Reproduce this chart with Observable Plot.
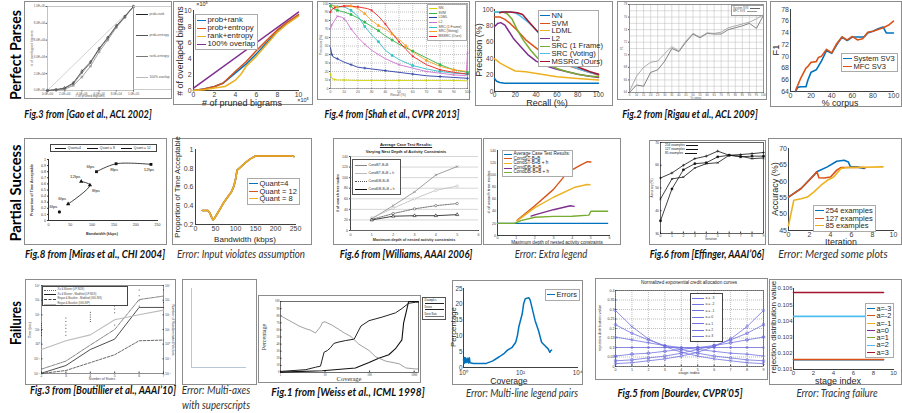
<!DOCTYPE html>
<html><head><meta charset="utf-8">
<script src="https://cdn.jsdelivr.net/npm/d3@7"></script>
<script src="https://cdn.jsdelivr.net/npm/@observablehq/plot@0.6"></script>
<style>
html,body{margin:0;padding:0;background:#fff}
body{width:902px;height:413px;overflow:hidden;position:relative;font-family:"Liberation Sans",Arial,sans-serif}
.box{position:absolute;box-sizing:border-box;border:1.5px solid #8c8c8c;background:#fff}
</style></head><body>
<script>
// ================= DATA =================
const rowTitles = ["Perfect Parses", "Partial Success", "Failures"];
const captions = ["Fig.3 from [Gao et al., ACL 2002]", "Fig.4 from [Shah et al., CVPR 2013]", "Fig.2 from [Rigau et al., ACL 2009]",
  "Fig.8 from [Miras et al., CHI 2004]", "Fig.6 from [Williams, AAAI 2006]", "Fig.6 from [Effinger, AAAI’06]",
  "Fig.3 from [Boutillier et al., AAAI’10]", "Fig.1 from [Weiss et al., ICML 1998]", "Fig.5 from [Bourdev, CVPR’05]"];
const errors = ["Error: Input violates assumption", "Error: Extra legend", "Error: Merged some plots",
  "Error: Multi-axes", "with superscripts", "Error: Multi-line legend pairs", "Error: Tracing failure"];

// Gao (original) — x, y in bigrams
const gaoNames = ["prob+rank", "prob+entropy", "rank+entropy", "100% overlap"];
const gaoOrigTicks = [0, 20000, 40000, 60000, 80000, 100000];
const gaoOrigProbRank = [[0,0],[10000,1000],[20000,3000],[30000,9000],[40000,23000],[50000,34000],[60000,50000],[70000,63000],[80000,77000],[90000,88000],[100000,100000]];
const gaoOrigProbEntropy = [[0,0],[10000,1000],[20000,2500],[30000,8000],[40000,21000],[50000,33000],[60000,49000],[70000,62000],[80000,76000],[90000,88000],[100000,100000]];
const gaoOrigRankEntropy = [[0,0],[10000,500],[20000,1500],[30000,6000],[40000,16000],[50000,29000],[60000,46000],[70000,60000],[80000,75000],[90000,87000],[100000,100000]];
const gaoOrigOverlap = [[0,0],[100000,100000]];
// Gao (recreated) — ×10^5
const gaoRecTicks = [0, 2, 4, 6, 8, 10];
const gaoRecProbRank = [[0,0],[1,0.2],[2,0.5],[2.8,0.9],[4,2.2],[5,3.3],[6,4.6],[7,6.0],[8,7.4],[9,8.5],[10,9.4]];
const gaoRecProbEntropy = [[0,0],[1,0.2],[2,0.5],[2.8,0.9],[4,2.4],[5,3.6],[6,5.0],[7,6.3],[8,7.6],[9,8.6],[10,9.5]];
const gaoRecRankEntropy = [[0,0],[1,0.1],[2,0.3],[3,0.5],[4,1.3],[4.5,2.0],[5,3.0],[6,4.3],[7,5.8],[8,7.3],[9,8.4],[10,9.3]];
const gaoRecOverlap = [[0,0.3],[10,9.8]];

// Shah — recall (%), precision (%)
const shahNames = ["NN", "SVM", "LDML", "L2", "SRC (1 Frame)", "SRC (Voting)", "MSSRC (Ours)"];
const shahOrigTicks = [0,10,20,30,40,50,60,70,80,90,100];
const shahOrigNN = [[0,17],[1,12],[3,10.5],[5,10],[10,10],[20,9.5],[30,9.5],[40,9.5],[50,9.5],[60,9.5],[70,9.5],[80,9.5],[90,9.5],[100,9]];
const shahOrigSVM = [[0,97],[3,93],[5,92],[10,90],[15,87],[20,83],[25,78],[30,73],[35,68],[40,62],[45,57],[50,52],[60,44],[70,36],[80,28],[90,22],[100,19]];
const shahOrigLDML = [[0,48],[1,40],[2,37],[5,35],[10,31],[15,28],[20,25],[25,24],[30,23],[40,21],[50,19],[60,17],[70,15],[80,14],[90,13],[100,12]];
const shahOrigL2 = [[0,70],[1,75],[3,80],[5,85],[8,84],[10,82],[12,78],[15,70],[20,60],[25,52],[30,45],[35,40],[40,35],[50,28],[60,24],[70,20],[80,18],[90,16],[99,15],[100,42]];
const shahOrigSRC1 = [[0,99],[5,96],[10,96],[15,92],[20,85],[25,73],[30,63],[35,55],[40,45],[45,39],[50,34],[60,27],[70,23],[80,20],[90,18],[100,17]];
const shahOrigSRCV = [[0,98],[5,96],[10,97],[15,97],[20,94],[25,88],[30,80],[35,74],[40,70],[45,64],[50,58],[55,50],[60,43],[70,33],[80,26],[90,22],[100,20]];
const shahOrigMSSRC = [[0,90],[1,93],[3,95],[5,96],[10,97],[15,97],[20,96],[27,94],[30,92],[35,85],[40,76],[45,65],[50,55],[55,46],[60,38],[70,28],[80,22],[90,19],[100,17]];
const shahRecTicks = [0,20,40,60,80,100];
const shahRecNN = [[0,16],[2,12.5],[5,11],[10,10],[20,10],[40,10],[60,10],[80,10],[100,10]];
const shahRecSVM = [[0,91],[5,91],[10,88],[15,83],[20,77],[25,70],[30,63],[38,55],[45,48],[52,42],[62,36],[72,31],[82,27],[92,23],[100,20]];
const shahRecLDML = [[0,40],[5,35],[12,30],[20,25],[30,24],[45,21],[60,18],[80,16],[100,14]];
const shahRecL2 = [[0,79],[3,83],[6,84],[10,81],[13,75],[18,65],[25,55],[32,45],[40,37],[50,31],[60,27],[70,24],[80,21],[90,19],[100,17]];
const shahRecSRC1 = [[0,97],[8,97],[12,95],[17,88],[22,75],[28,62],[35,50],[42,40],[50,34],[60,28],[70,24],[80,21],[90,19],[100,18]];
const shahRecSRCV = [[0,97],[15,97],[20,96],[25,92],[32,85],[40,75],[48,62],[55,50],[62,40],[72,32],[82,27],[92,23],[100,21]];
const shahRecMSSRC = [[5,96],[8,97],[15,97],[22,96],[27,94],[33,85],[40,75],[48,65],[55,55],[63,45],[72,35],[82,29],[92,24],[100,21]];

// Rigau — % corpus, F1
const rigauNames = ["System SV3", "MFC SV3"];
const rigauOrigXTicks = [5,10,15,20,25,30,35,40,45,50,55,60,65,70,75,80,85,90,95,100];
const rigauOrigYTicks = [64,66,68,70,72,74,76,78];
const rigauOrigYGrid = [64,65,66,67,68,69,70,71,72,73,74,75,76,77,78];
const rigauOrigSystem = [[5,64],[10,65.2],[15,65],[20,67.2],[25,67.6],[30,69],[35,71],[40,70.5],[45,72],[50,73.3],[55,72.7],[60,73.4],[65,73.3],[70,73.3],[75,74],[80,74.3],[85,74.6],[90,75],[95,74.2],[100,76.3]];
const rigauOrigMFC = [[5,64.2],[10,66.6],[15,68],[20,68.8],[25,69],[30,70.2],[35,71.3],[40,70.6],[45,72.2],[50,73.4],[55,72.8],[60,73.5],[65,73.4],[70,73.6],[75,74.3],[80,74.6],[85,74.9],[90,75.2],[95,75.7],[100,76.4]];
const rigauRecXTicks = [0,20,40,60,80,100];
const rigauRecYTicks = [64,66,68,70,72,74,76,78];
const rigauRecSystem = [[5,64],[7,64.7],[10,64.8],[15,64.8],[17,66],[20,67.3],[25,67.7],[30,69.2],[35,71],[40,70.5],[45,72],[50,73.3],[55,72.7],[60,73.3],[65,73.3],[70,73.3],[72,73.4],[75,74],[80,74.3],[85,74.7],[90,75],[93,74],[100,74]];
const rigauRecMFC = [[5,64.2],[10,66.3],[15,68],[17,68.3],[20,69],[25,69.1],[27,69.8],[30,70],[35,71.2],[40,70.6],[45,72.2],[50,73.3],[55,72.8],[60,73.4],[65,72.8],[70,73],[75,74.1],[80,74.3],[85,74.6],[90,74.9],[95,75.3],[100,76]];

// Miras — bandwidth (kbps), proportion
const mirasNames = ["Quant=4", "Quant = 8", "Quant = 12"];
const mirasOrigXTicks = [0,50,100,150,200,250];
const mirasOrigYTicks = [0,0.1,0.2,0.3,0.4,0.5,0.6,0.7,0.8,0.9,1];
const mirasQ4 = [[110,0.80,"6fps"],[155,0.93,"8fps"],[235,0.92,"12fps"]];
const mirasQ8 = [[45,0.27,"6fps"],[95,0.58,"8fps"],[75,0.64,"12fps"]];
const mirasQ12 = [[25,0.14,"6fps"]];
const mirasRecNames = ["Quant=4", "Quant = 12", "Quant = 8"];
const mirasRecXTicks = [0,50,100,150,200,250];
const mirasRecYTicks = [0.2,0.4,0.6,0.8,1];
const mirasRecLine = [[17,0.35],[25,0.35],[30,0.35],[35,0.33],[40,0.28],[44,0.25],[48,0.27],[55,0.32],[62,0.37],[70,0.43],[80,0.49],[90,0.55],[96,0.61],[100,0.68],[104,0.78],[112,0.81],[125,0.86],[137,0.9],[150,0.93],[200,0.93],[240,0.93],[246,0.925]];

// Williams — max depth, # search tree nodes
const willOrigNames = ["CondST-B+B", "CondST-B+B + h", "CondDB-B+B", "CondDB-B+B + h"];
const willRecNames = ["Average Case Test Results:", "CondST-B+B", "CondST-B+B + h", "CondDB-B+B", "CondDB-B+B + h"];
const willXTicks = [0,1,2,3,4,5,6];
const willYTicks = [0,20,40,60,80,100,120,140];
const willOrigST = [[1,22],[2,47],[3,73],[4,105],[5,121]];
const willOrigSTh = [[1,24],[2,42],[3,60],[4,76],[5,84]];
const willOrigDB = [[1,21],[2,32],[3,41],[4,47],[5,51]];
const willOrigDBh = [[1,20],[2,27],[3,28],[4,28],[5,30]];
const willRecAvg = [[0,20],[5.9,20]];
const willRecST = [[1.05,25],[2,49],[3,76],[3.75,104],[4.45,116],[4.82,121.5],[5,121]];
const willRecSTh = [[1.05,24],[2,46],[3,63],[4.1,79],[4.8,84],[4.95,83.5]];
const willRecDB = [[1.8,32],[2,34],[3,42.5],[3.9,49],[4.1,48]];
const willRecDBh = [[0,20],[0.9,20],[1.25,24.5],[2,30],[3,31.5],[4,31.8],[4.9,33.5],[5,40],[5.9,40]];

// Effinger — iteration, accuracy (%)
const effNames = ["254 examples", "127 examples", "85 examples"];
const effOrigXTicks = [0,1,2,3,4,5,6,7,8,9];
const effOrigYTicks = [30,40,50,60,70];
const effOrig254 = [[0,54.4],[1,56.6],[2,60],[3,62.9],[4,64],[5,66.2],[6,64.4],[7,64.7],[8,65.1],[9,65.6]];
const effOrig127 = [[0,45.2],[1,54],[2,54.8],[3,58.8],[4,60.7],[5,61.1],[6,64.4],[7,64],[8,62.9],[9,63.2]];
const effOrig85 = [[0,35.6],[1,49.6],[2,58],[3,60.7],[4,61.1],[5,63.7],[6,64.4],[7,63.7],[8,64],[9,64]];
const effRecXTicks = [0,2,4,6,8,10];
const effRecYTicks = [45,50,55,60,65,70];
const effRec254 = [[0,55.2],[1.2,57.8],[2.4,61.8],[2.7,62.9],[3.7,64.4],[4.6,66.1],[5.3,66.4],[5.7,65.9],[5.9,64.4],[6.5,64.4],[7.2,63.9]];
const effRec127 = [[0,55.2],[1.2,57.8],[2.4,61.8],[2.7,62.9],[2.9,61.1],[3.4,61],[4,61.3],[4.6,63.4],[5,64.2],[7.2,64.2],[7.3,64]];
const effRec85 = [[0,46.5],[0.5,54.2],[1.2,54.7],[1.8,55.2],[2.4,56.7],[3.1,58.8],[3.7,60.3],[4.3,61.3],[5,63.9],[5.6,64.2],[7.2,64.3],[9,64.4]];

// Boutilier — number of states, time (sec)
const boutNames = ["Xu & Warner (LP-NDS)", "Xu & Warner - Modified (LP-NDS)", "Regan & Boutilier - Modified (IGS-NIS)", "Regan & Boutilier (IGS-NIP)"];
const boutXTicks = [2,3,4,5,6,7];
const boutYTicks = [0.01,0.1,1,10,100,1000,10000];
const boutXuWarner = [[2,0.02],[3,0.07],[4,0.87],[5,10],[6,1100],[7,1900]];
const boutXuWarnerMod = [[2,0.0105],[3,0.035],[4,0.43],[5,2.2],[6,320],[7,320]];
const boutReganMod = [[2,0.01],[3,0.016],[4,0.055],[5,0.19],[6,1.7],[7,1.9]];
const boutRegan = [[2,0.43],[3,1.7],[4,4.3],[5,46],[6,100],[7,210]];
const boutVectors = [[2,4],[2,6],[2,9],[2,13],[2,19],[2,26],[3,4],[3,7],[3,12],[3,20],[3,35],[3,60],[4,35],[4,50],[4,70],[4,100],[4,150],[5,20],[5,140],[5,250],[5,400],[5,700],[6,400],[6,900],[6,2000],[6,5000],[7,700],[7,5000]];

// Weiss — coverage, percentage
const weissNames = ["Examples", "Errors", "Error Rate"];
const weissOrigXTicks = [1,10,100,1000];
const weissOrigYTicks = [0,10,20,30,40,50,60,70,80,90,100];
const weissOrigRate = [[1,80],[2.6,65.5],[3.7,61.6],[4.7,59.6],[6.1,55.7],[7.9,64.5],[8.7,70.4],[10,71.4],[14.5,66.5],[20.5,60.6],[27,55.7],[38,50.7],[57,40],[97,31],[137,22],[230,16],[460,12.3],[650,6.4],[1090,5],[1250,5]];
const weissOrigExamples = [[1,1.5],[3.7,4],[6.1,7.4],[7.9,9],[9.5,28.6],[11.3,31],[13.3,35],[15.8,41],[20.5,43],[29,45],[45,47],[64,65.5],[97,73],[190,78],[380,84],[530,90],[750,97.5],[1090,99],[1250,99]];
const weissOrigErrors = [[1,0.5],[8.7,2.5],[48,6.4],[97,14],[160,20],[270,25],[380,33.5],[530,46],[580,70],[690,90],[750,100],[1250,100]];
const weissRecXTicks = [1,100,10000];
const weissRecYTicks = [0,5,10,15,20,25];
const weissRecErrors = [[1,2.5],[1.05,1.3],[1.1,3.2],[1.15,1.5],[1.2,3],[1.3,1.6],[1.4,2.9],[1.5,1.4],[1.6,3.1],[1.7,1.5],[2.2,1.3],[6.3,1.3],[10.7,2.1],[18,3.4],[27,4.5],[35,5.5],[51,6.4],[68,8],[78,10.1],[87,12.8],[115,17],[129,20.2],[148,21.8],[195,22.1],[219,21.3],[251,19.1],[324,14.9],[427,11.7],[550,8],[724,6.9],[933,5.9],[1072,4.8],[1148,5.3],[1230,5.5]];

// Bourdev — stage index, rejection distribution value
const bourOrigNames = ["a = -3", "a = -2", "a = -1", "a = 0", "a = 1", "a = 2", "a = 3"];
const bourRecNames = ["a=-3", "a=-2", "a=-1", "a=0", "a=1", "a=2", "a=3"];
const bourOrigXTicks = [0,1,2,3,4,5,6,7,8,9];
const bourOrigYTicks = [0,0.05,0.1,0.15,0.2,0.25,0.3,0.35,0.4];
const bourStages = [0,1,2,3,4,5,6,7,8,9];
const bourAm3 = [0.295,0.21,0.145,0.105,0.075,0.055,0.04,0.03,0.02,0.015];
const bourAm2 = [0.22,0.175,0.14,0.11,0.09,0.07,0.055,0.045,0.035,0.03];
const bourAm1 = [0.155,0.14,0.125,0.11,0.1,0.09,0.08,0.07,0.065,0.055];
const bourA0 = [0.1,0.1,0.1,0.1,0.1,0.1,0.1,0.1,0.1,0.1];
const bourA1 = [0.055,0.065,0.07,0.08,0.09,0.1,0.11,0.125,0.14,0.155];
const bourA2 = [0.03,0.035,0.045,0.055,0.07,0.09,0.11,0.14,0.175,0.22];
const bourA3 = [0.015,0.02,0.03,0.04,0.055,0.075,0.105,0.145,0.21,0.295];
const bourRecXTicks = [0,2,4,6,8,10];
const bourRecYTicks = [0.101,0.102,0.103,0.104,0.105,0.106];
const bourRecAm3 = [[0,0.1016],[9,0.1016]];
const bourRecAm2 = [[0,0.10162],[9,0.10162]];
const bourRecA2 = [[0,0.10428],[9,0.10428]];
const bourRecA3 = [[0,0.10575],[9,0.10575]];

// ================= HELPERS =================
const F = '"Liberation Sans", Arial, sans-serif';
const M = ["#0072BD","#D95319","#EDB120","#7E2F8E","#77AC30","#4DBEEE","#A2142F"];
const P = (arr, s) => arr.map(d => ({s, x: d[0], y: d[1], t: d[2]}));
const num = d => String(d);
const SUP = {"-":"⁻","0":"⁰","1":"¹","2":"²","3":"³","4":"⁴","5":"⁵"};
const pow10 = d => "10" + String(Math.round(Math.log10(d))).split("").map(c => SUP[c]).join("");
const sci = d => { if (d === 0) return "0.0E+00"; const e = Math.floor(Math.log10(d)); return (d / 10 ** e).toFixed(1) + "E+" + String(e).padStart(2, "0"); };

function box(b, o = {}) {
  const d = document.createElement("div"); d.className = "box";
  d.style.left = b[0] + "px"; d.style.top = b[1] + "px";
  d.style.width = (b[2] - b[0]) + "px"; d.style.height = (b[3] - b[1]) + "px";
  if (o.border) d.style.border = o.border;
  document.body.append(d);
}
function chart(b, a, opts) {
  const style = Object.assign({background: "none", fontFamily: F, fontSize: "7px", color: "#262626", overflow: "visible"}, opts.style || {});
  const o = Object.assign({width: b[2]-b[0], height: b[3]-b[1], marginLeft: a[0]-b[0], marginTop: a[1]-b[1], marginRight: b[2]-a[2], marginBottom: b[3]-a[3]}, opts, {style});
  o.x = Object.assign({label: null}, opts.x || {});
  o.y = Object.assign({label: null}, opts.y || {});
  const svg = Plot.plot(o);
  svg.style.position = "absolute"; svg.style.left = b[0] + "px"; svg.style.top = b[1] + "px";
  document.body.append(svg);
  return svg;
}
function label(cx, cy, s, fs, o = {}) {
  const d = document.createElement("div"); d.textContent = s;
  d.style.cssText = `position:absolute;left:${cx}px;top:${cy}px;font-family:${o.font||F};font-size:${fs}px;line-height:1;white-space:nowrap;color:${o.color||'#262626'};font-weight:${o.bold?700:400};font-style:${o.italic?'italic':'normal'};${o.css||''}`;
  document.body.append(d);
  let t = "translate(-50%,-50%)" + (o.rot ? " rotate(-90deg)" : "") + (o.rot90 ? " rotate(90deg)" : "");
  if (o.fit) t += ` scaleX(${o.fit / d.offsetWidth})`;
  d.style.transform = t;
  return d;
}
function legend(x, y, names, colors, o = {}) {
  const d = document.createElement("div");
  const fs = o.fs || 8, lh = o.lh || fs;
  d.style.cssText = `position:absolute;left:${x}px;top:${y}px;font-family:${o.font||F};font-size:${fs}px;line-height:${lh}px;background:#fff;border:${o.border||'0.7px solid #aaa'};padding:${o.pad||'1px 2px 1px 1px'};color:${o.color||'#262626'};white-space:nowrap;box-sizing:border-box;${o.w?'width:'+o.w+'px;':''}${o.h?'height:'+o.h+'px;':''}${o.css||''}`;
  names.forEach((n, i) => {
    const r = document.createElement("div");
    r.style.cssText = `display:flex;align-items:center;height:${lh}px;${o.rowCss||''}`;
    const s = document.createElement("span");
    const lw = o.lw ? (Array.isArray(o.lw) ? o.lw[i] : o.lw) : 1.5;
    const ds = o.dash ? o.dash[i] : "solid";
    s.style.cssText = `display:inline-block;flex:none;width:${o.sw||9}px;border-top:${lw}px ${ds} ${colors[i]};margin:0 ${o.gap||1.5}px 0 ${o.textFirst?(o.gap||1.5):0}px`;
    const t = document.createElement("span"); t.textContent = n;
    if (o.textFirst) r.append(t, s); else r.append(s, t);
    d.append(r);
  });
  document.body.append(d);
  return d;
}
const origStyle = c => ({fontSize: c || "3.4px", color: "#555"});

// ================= BOXES =================
const boxes = [[24,1,172,99],[173,1,313,105],[317,1,470,100],[475,1,613,106],[617,1,767,100],[770,1,902,107],
  [24,138,167,245],[172,138,312,245],[333,138,482,245],[483,138,621,245],[649,140,766,245],[768,138,902,245],
  [25,279,176,385],[182,279,257,385],[258,295,421,383],[452,280,583,385],[595,278,768,380],[769,279,902,385]];
boxes.forEach(b => box(b));

// ---------- 1. Gao original ----------
const gaoOrigRows = [...P(gaoOrigOverlap, gaoNames[3]), ...P(gaoOrigProbRank, gaoNames[0]), ...P(gaoOrigProbEntropy, gaoNames[1]), ...P(gaoOrigRankEntropy, gaoNames[2])];
chart(boxes[0], [47,6,133,90], {
  x: {domain: [0,100000], ticks: gaoOrigTicks, tickFormat: sci, tickSize: 1.5, tickPadding: 0.5},
  y: {domain: [0,100000], ticks: gaoOrigTicks, tickFormat: sci, tickSize: 1.5, tickPadding: 1},
  color: {domain: gaoNames, range: ["#222","#555","#777","#bbb"]},
  symbol: {domain: gaoNames, range: ["diamond","times","square","circle"]},
  style: origStyle("3px"),
  marks: [Plot.frame({stroke: "#999", strokeWidth: 0.6}),
    Plot.line(gaoOrigRows, {x: "x", y: "y", z: "s", stroke: "s", strokeWidth: 0.7}),
    Plot.dot(gaoOrigRows.filter(d => d.s !== gaoNames[3]), {x: "x", y: "y", stroke: "s", symbol: "s", r: 1, strokeWidth: 0.5})]
});
{ const lg = document.createElement("div");
  lg.style.cssText = "position:absolute;left:133px;top:6px;width:38px;height:84px;border-left:0.6px solid #999;border-top:0.6px solid #ccc;border-bottom:0.6px solid #ccc;box-sizing:border-box";
  document.body.append(lg);
  gaoNames.forEach((n, i) => {
    legend(136, 12 + i * 21, [n], [["#222","#555","#777","#bbb"][i]], {fs: 3.3, lh: 4, sw: 12, lw: 0.7, border: "none", pad: "0", color: "#555", css: "background:none"});
  });
}
label(33, 48, "# of overlapped bigrams", 3.3, {rot: true, color: "#555"});
label(90, 96.5, "# of pruned bigrams", 3.3, {color: "#555"});

// ---------- 2. Gao recreated ----------
const gaoRecRows = [...P(gaoRecProbRank, gaoNames[0]), ...P(gaoRecProbEntropy, gaoNames[1]), ...P(gaoRecRankEntropy, gaoNames[2]), ...P(gaoRecOverlap, gaoNames[3])];
chart(boxes[1], [193,10,298,90], {
  x: {domain: [0,10], ticks: gaoRecTicks, tickFormat: num, tickSize: 0, tickPadding: 1.5, line: true},
  y: {domain: [0,10], ticks: gaoRecTicks, tickFormat: num, tickSize: 0, tickPadding: 2, line: true},
  color: {domain: gaoNames, range: M.slice(0,4)},
  style: {fontSize: "6.8px", color: "#404040"},
  marks: [Plot.line(gaoRecRows, {x: "x", y: "y", z: "s", stroke: "s", strokeWidth: 1.5})]
});
legend(195, 14, gaoNames, M.slice(0,4), {fs: 7.8, lh: 8, sw: 9});
label(180, 51, "# of overlaped bigrams", 8.8, {rot: true});
label(242, 102.5, "# of pruned bigrams", 9);
label(202, 5, "×10⁵", 5.5);
label(303, 101, "×10⁵", 5.5);

// ---------- 3. Shah original ----------
const shahOrigColors = ["#d4d400","#2db84a","#2a3da8","#d070d0","#30c0c8","#ffa020","#ee2020"];
const shahOrigRows = [shahOrigNN, shahOrigSVM, shahOrigLDML, shahOrigL2, shahOrigSRC1, shahOrigSRCV, shahOrigMSSRC].flatMap((a, i) => P(a, shahNames[i]));
chart(boxes[2], [330,3,467,88], {
  x: {domain: [0,100], ticks: shahOrigTicks, tickFormat: num, tickSize: 1, tickPadding: 1},
  y: {domain: [0,100], ticks: shahOrigTicks, tickFormat: num, tickSize: 1, tickPadding: 1},
  color: {domain: shahNames, range: shahOrigColors},
  symbol: {domain: shahNames, range: ["plus","square","plus","times","square","triangle","asterisk"]},
  style: origStyle("3.4px"),
  marks: [Plot.gridX({ticks: shahOrigTicks, stroke: "#888", strokeOpacity: 0.5, strokeDasharray: "1,1"}),
    Plot.gridY({ticks: shahOrigTicks, stroke: "#888", strokeOpacity: 0.5, strokeDasharray: "1,1"}),
    Plot.frame({stroke: "#888", strokeWidth: 0.6}),
    Plot.line(shahOrigRows, {x: "x", y: "y", z: "s", stroke: "s", strokeWidth: 0.9}),
    Plot.dot(shahOrigRows.filter((d, i) => i % 2 === 0), {x: "x", y: "y", stroke: "s", fill: "s", symbol: "s", r: 1.1, strokeWidth: 0.6})]
});
legend(427, 4, shahNames, shahOrigColors, {fs: 3.4, lh: 4.7, sw: 8, lw: 0.9, color: "#444", w: 40});
label(398, 95.5, "Recall (%)", 3.4, {color: "#555"});
label(322, 45, "Precision (%)", 3.4, {rot: true, color: "#555"});

// ---------- 4. Shah recreated ----------
const shahRecRows = [shahRecNN, shahRecSVM, shahRecLDML, shahRecL2, shahRecSRC1, shahRecSRCV, shahRecMSSRC].flatMap((a, i) => P(a, shahNames[i]));
chart(boxes[3], [494,9,598,91], {
  x: {domain: [0,100], ticks: shahRecTicks, tickFormat: num, tickSize: 0, tickPadding: 1.2, line: true},
  y: {domain: [0,100], ticks: shahRecTicks, tickFormat: num, tickSize: 0, tickPadding: 1.2, line: true},
  color: {domain: shahNames, range: M},
  style: {fontSize: "6.5px", color: "#404040"},
  marks: [Plot.line(shahRecRows, {x: "x", y: "y", z: "s", stroke: "s", strokeWidth: 1.5})]
});
legend(538, 10, shahNames, M, {fs: 7.6, lh: 7.6, sw: 10, w: 61});
label(547, 102.5, "Recall (%)", 9);
label(478.5, 50, "Precision (%)", 9, {rot: true});

// ---------- 5. Rigau original ----------
const rigauOrigRows = [...P(rigauOrigSystem, rigauNames[0]), ...P(rigauOrigMFC, rigauNames[1])];
chart(boxes[4], [629,4,763,92], {
  x: {domain: [5,100], ticks: rigauOrigXTicks, tickFormat: num, tickSize: 1, tickPadding: 0.8},
  y: {domain: [64,78], ticks: rigauOrigYTicks, tickFormat: num, tickSize: 1, tickPadding: 1.5},
  color: {domain: rigauNames, range: ["#666","#999"]},
  style: origStyle("2.9px"),
  marks: [Plot.gridX({ticks: rigauOrigXTicks, stroke: "#bbb", strokeOpacity: 1, strokeWidth: 0.5}),
    Plot.gridY({ticks: rigauOrigYGrid, stroke: "#bbb", strokeOpacity: 1, strokeWidth: 0.5}),
    Plot.frame({stroke: "#777", strokeWidth: 0.7}),
    Plot.line(rigauOrigRows, {x: "x", y: "y", z: "s", stroke: "s", strokeWidth: 0.8})]
});
legend(731, 5, rigauNames, ["#666","#999"], {fs: 2.8, lh: 3.3, sw: 10, lw: 0.7, textFirst: true, border: "0.5px solid #999", color: "#555"});
label(696, 98.6, "% corpus", 2.6, {color: "#555"});
label(622, 48, "F1", 3, {rot: true, color: "#555"});

// ---------- 6. Rigau recreated ----------
const rigauRecRows = [...P(rigauRecSystem, rigauNames[0]), ...P(rigauRecMFC, rigauNames[1])];
chart(boxes[5], [790,9,893,91], {
  x: {domain: [0,100], ticks: rigauRecXTicks, tickFormat: num, tickSize: 0, tickPadding: 1.2, line: true},
  y: {domain: [64,78], ticks: rigauRecYTicks, tickFormat: num, tickSize: 0, tickPadding: 1.5, line: true},
  color: {domain: rigauNames, range: M.slice(0,2)},
  style: {fontSize: "7px", color: "#404040"},
  marks: [Plot.line(rigauRecRows, {x: "x", y: "y", z: "s", stroke: "s", strokeWidth: 1.6})]
});
legend(841, 53, rigauNames, M.slice(0,2), {fs: 7.5, lh: 7.5, sw: 9});
label(840, 103.3, "% corpus", 8.8);
label(776.5, 50, "F1", 9.3, {rot: true});

// ---------- 7. Miras original ----------
const mirasRows = [...P(mirasQ4, mirasNames[0]), ...P(mirasQ8, mirasNames[1]), ...P(mirasQ12, mirasNames[2])];
const aboveLeft = d => (d.s === mirasNames[0] && d.t === "6fps") || (d.s !== mirasNames[0] && d.t !== "8fps");
chart(boxes[6], [48,159,157,220], {
  x: {domain: [0,250], ticks: mirasOrigXTicks, tickFormat: num, tickSize: 1, tickPadding: 2, line: true},
  y: {domain: [0,1], ticks: mirasOrigYTicks, tickFormat: num, tickSize: 1, tickPadding: 1.5, line: true},
  symbol: {domain: mirasNames, range: ["square","triangle","circle"]},
  style: {fontSize: "3.6px", color: "#333"},
  marks: [Plot.line(mirasRows, {x: "x", y: "y", z: "s", stroke: "#111", strokeWidth: 0.8, curve: "catmull-rom"}),
    Plot.dot(mirasRows, {x: "x", y: "y", symbol: "s", fill: "#111", r: 1.6}),
    Plot.text(mirasRows.filter(aboveLeft), {x: "x", y: "y", text: "t", dx: -6, dy: -5, fontSize: 4.2, fill: "#222"}),
    Plot.text(mirasRows.filter(d => d.s === mirasNames[0] && d.t !== "6fps"), {x: "x", y: "y", text: "t", dx: -2, dy: 5.5, fontSize: 4.2, fill: "#222"}),
    Plot.text(mirasRows.filter(d => d.s === mirasNames[1] && d.t === "8fps"), {x: "x", y: "y", text: "t", dx: 6, dy: 6, fontSize: 4.2, fill: "#222"})]
});
{ const lg = legend(50, 144, [], [], {fs: 3.4, lh: 5, border: "0.6px solid #444", w: 107, h: 8});
  lg.style.display = "flex"; lg.style.alignItems = "center"; lg.style.justifyContent = "space-around";
  mirasNames.forEach(n => { const r = document.createElement("span"); r.style.cssText = "display:flex;align-items:center";
    const s = document.createElement("span"); s.style.cssText = "display:inline-block;width:11px;border-top:0.8px solid #111;margin-right:1.5px";
    r.append(s, document.createTextNode(n)); lg.append(r); });
}
label(102, 235, "Bandwidth (kbps)", 3.8, {bold: true, color: "#333"});
label(33, 190, "Proportion of Time Acceptable", 3.6, {rot: true, bold: true, color: "#333"});

// ---------- 8. Miras recreated ----------
const mirasRecRows = [...P(mirasRecLine, mirasRecNames[0]), ...P(mirasRecLine, mirasRecNames[1]), ...P(mirasRecLine, mirasRecNames[2])];
chart(boxes[7], [195,149,295,224], {
  x: {domain: [0,250], ticks: mirasRecXTicks, tickFormat: num, tickSize: 0, tickPadding: 2, line: true},
  y: {domain: [0.2,1], ticks: mirasRecYTicks, tickFormat: num, tickSize: 0, tickPadding: 2, line: true},
  color: {domain: mirasRecNames, range: M.slice(0,3)},
  style: {fontSize: "7px", color: "#404040"},
  marks: [Plot.line(mirasRecRows, {x: "x", y: "y", z: "s", stroke: "s", strokeWidth: 1.6})]
});
legend(247, 178, mirasRecNames, M.slice(0,3), {fs: 7.5, lh: 7.5, sw: 9});
label(245, 239.5, "Bandwidth (kbps)", 8);
label(178, 187, "Proportion of Time Acceptable", 7.6, {rot: true});

// ---------- 9. Williams original ----------
const willOrigRows = [...P(willOrigST, willOrigNames[0]), ...P(willOrigSTh, willOrigNames[1]), ...P(willOrigDB, willOrigNames[2]), ...P(willOrigDBh, willOrigNames[3])];
chart(boxes[8], [350,156,478,230], {
  x: {domain: [0,6], ticks: willXTicks, tickFormat: num, tickSize: 1, tickPadding: 1.5, line: true},
  y: {domain: [0,140], ticks: willYTicks, tickFormat: num, tickSize: 1, tickPadding: 1.5, line: true},
  color: {domain: willOrigNames, range: ["#888","#bbb","#555","#111"]},
  symbol: {domain: willOrigNames, range: ["times","circle","circle","triangle"]},
  style: {fontSize: "3.6px", color: "#444"},
  marks: [Plot.gridY({ticks: willYTicks, stroke: "#999", strokeOpacity: 0.8, strokeWidth: 0.5}),
    Plot.line(willOrigRows.filter(d => d.s !== willOrigNames[2]), {x: "x", y: "y", z: "s", stroke: "s", strokeWidth: 0.8}),
    Plot.line(willOrigRows.filter(d => d.s === willOrigNames[2]), {x: "x", y: "y", stroke: "#555", strokeWidth: 0.8, strokeDasharray: "1.5,1"}),
    Plot.dot(willOrigRows, {x: "x", y: "y", stroke: "s", symbol: "s", fill: "white", r: 1.2, strokeWidth: 0.6})]
});
label(406, 145, "Average Case Test Results:", 4, {bold: true, css: "text-decoration:underline"});
label(406, 152, "Varying Nest Depth of Activity Constraints", 4, {bold: true});
legend(352, 159, willOrigNames, ["#888","#bbb","#555","#111"], {fs: 3.4, lh: 8, sw: 12, lw: 0.8, dash: ["solid","solid","dotted","solid"], border: "0.6px solid #555", w: 49, pad: "1px 2px", color: "#333"});
label(414, 241, "Maximum depth of nested activity constraints", 3.8, {bold: true, color: "#333"});
label(339, 193, "# of search tree nodes", 3.6, {rot: true, bold: true, color: "#333"});

// ---------- 10. Williams recreated ----------
const willRecRows = [...P(willRecAvg, willRecNames[0]), ...P(willRecST, willRecNames[1]), ...P(willRecSTh, willRecNames[2]), ...P(willRecDB, willRecNames[3]), ...P(willRecDBh, willRecNames[4])];
chart(boxes[9], [497,150,609,235], {
  x: {domain: [0,6], ticks: willXTicks, tickFormat: num, tickSize: 0, tickPadding: 1, line: true},
  y: {domain: [0,140], ticks: willYTicks, tickFormat: num, tickSize: 0, tickPadding: 1.5, line: true},
  color: {domain: willRecNames, range: M.slice(0,5)},
  style: {fontSize: "3.6px", color: "#404040"},
  marks: [Plot.line(willRecRows, {x: "x", y: "y", z: "s", stroke: "s", strokeWidth: 1.4})]
});
legend(502, 150, willRecNames, M.slice(0,5), {fs: 4.6, lh: 4.6, sw: 8, lw: 1.2});
label(557, 242.5, "Maximum depth of nested activity constraints", 4.6);
label(489, 192, "# of search tree nodes", 4.3, {rot: true});

// ---------- 11. Effinger original ----------
const effOrigRows = [...P(effOrig254, effNames[0]), ...P(effOrig127, effNames[1]), ...P(effOrig85, effNames[2])];
chart(boxes[10], [660,142,763,233], {
  x: {domain: [0,9], ticks: effOrigXTicks, tickFormat: num, tickSize: -1.5, tickPadding: 3},
  y: {domain: [30,70], ticks: effOrigYTicks, tickFormat: num, tickSize: -1.5, tickPadding: 3},
  symbol: {domain: effNames, range: ["plus","times","square"]},
  style: {fontSize: "3.4px", color: "#333"},
  marks: [Plot.frame({stroke: "#222", strokeWidth: 0.7}),
    Plot.line(effOrigRows, {x: "x", y: "y", z: "s", stroke: "#111", strokeWidth: 0.8}),
    Plot.dot(effOrigRows, {x: "x", y: "y", symbol: "s", stroke: "#111", fill: "#111", r: 1, strokeWidth: 0.6})]
});
legend(665, 144, effNames, ["#111","#111","#111"], {fs: 3.2, lh: 3.8, sw: 12, lw: 0.7, textFirst: true, border: "none", pad: "0", css: "background:none;text-align:right", color: "#222"});
label(711, 240, "Iteration", 3.2, {color: "#333"});
label(653, 188, "Accuracy (%)", 3.2, {rot: true, color: "#333"});

// ---------- 12. Effinger recreated ----------
const effRecRows = [...P(effRec254, effNames[0]), ...P(effRec127, effNames[1]), ...P(effRec85, effNames[2])];
chart(boxes[11], [788,148,893,230], {
  x: {domain: [0,10], ticks: effRecXTicks, tickFormat: num, tickSize: 0, tickPadding: 1.2, line: true},
  y: {domain: [45,70], ticks: effRecYTicks, tickFormat: num, tickSize: 0, tickPadding: 1.5, line: true},
  color: {domain: effNames, range: M.slice(0,3)},
  style: {fontSize: "7px", color: "#404040"},
  marks: [Plot.line(effRecRows, {x: "x", y: "y", z: "s", stroke: "s", strokeWidth: 1.6})]
});
legend(813, 205, effNames, M.slice(0,3), {fs: 7.6, lh: 7.6, sw: 9});
label(841, 242, "Iteration", 8.8);
label(774.5, 189, "Accuracy (%)", 9, {rot: true});

// ---------- 13. Boutilier original ----------
const boutRows = [...P(boutXuWarner, boutNames[0]), ...P(boutXuWarnerMod, boutNames[1]), ...P(boutReganMod, boutNames[2]), ...P(boutRegan, boutNames[3])];
const boutColors = ["#666","#222","#444","#bbb"];
const boutDash = ["3,1,0.6,1", "none", "2.5,1.5", "none"];
chart(boxes[12], [41,285,163,373], {
  x: {domain: [2,7], ticks: boutXTicks, tickFormat: num, tickSize: -1.5, tickPadding: 3},
  y: {type: "log", domain: [0.01,10000], ticks: boutYTicks, tickFormat: pow10, tickSize: -1.5, tickPadding: 3},
  style: {fontSize: "3.4px", color: "#444"},
  marks: [Plot.frame({stroke: "#444", strokeWidth: 0.6}),
    Plot.axisY({anchor: "right", ticks: boutYTicks, tickFormat: pow10, tickSize: -1.5, tickPadding: 3, label: null}),
    Plot.axisY({anchor: "left", ticks: boutYTicks, tickFormat: pow10, tickSize: -1.5, tickPadding: 3, label: null}),
    ...boutNames.map((n, i) => Plot.line(boutRows.filter(d => d.s === n), {x: "x", y: "y", stroke: boutColors[i], strokeWidth: i === 3 ? 1.1 : 0.8, strokeDasharray: boutDash[i]})),
    Plot.dot(boutVectors.map(d => ({x: d[0], y: d[1]})), {x: "x", y: "y", r: 0.5, fill: "#222"})]
});
legend(42, 286, boutNames, boutColors, {fs: 2.6, lh: 4.6, sw: 12, lw: [0.7,0.8,0.8,1.1], dash: ["dotted","solid","dashed","solid"], border: "0.5px solid #444", w: 86, h: 20, color: "#444"});
label(102, 380, "Number of States", 3.4, {color: "#444"});
label(31, 330, "Time (sec)", 3.4, {rot: true, color: "#444"});
label(172, 330, "Number of Nondominated Vectors", 3.4, {rot90: true, color: "#444"});

// ---------- 14. Boutilier recreated (empty trace) ----------
const boutRecEmpty = [];
chart(boxes[13], [191,288,245,367], {
  x: {domain: [0,1], ticks: [], line: true},
  y: {domain: [0,1], ticks: [], line: true},
  style: {color: "#b9c6d6"},
  marks: [Plot.line(boutRecEmpty, {x: "x", y: "y", stroke: M[0]})]
});

// ---------- 15. Weiss original ----------
const weissRows = [...P(weissOrigExamples, weissNames[0]), ...P(weissOrigErrors, weissNames[1]), ...P(weissOrigRate, weissNames[2])];
chart(boxes[14], [280,301,418,372], {
  x: {type: "log", domain: [1,1250], ticks: weissOrigXTicks, tickFormat: num, tickSize: -1.5, tickPadding: 3},
  y: {domain: [0,100], ticks: weissOrigYTicks, tickFormat: num, tickSize: -1.5, tickPadding: 2.5},
  style: {fontSize: "3px", color: "#333", fontFamily: '"Liberation Serif", serif'},
  marks: [Plot.frame({stroke: "#333", strokeWidth: 0.7}),
    Plot.line(weissRows.filter(d => d.s === weissNames[0]), {x: "x", y: "y", stroke: "#222", strokeWidth: 1}),
    Plot.line(weissRows.filter(d => d.s === weissNames[1]), {x: "x", y: "y", stroke: "#111", strokeWidth: 1.1}),
    Plot.line(weissRows.filter(d => d.s === weissNames[2]), {x: "x", y: "y", stroke: "#777", strokeWidth: 0.7})]
});
{ const lg = document.createElement("div");
  lg.style.cssText = "position:absolute;left:422px;top:297px;width:24px;height:23px;border:0.6px solid #555;box-sizing:border-box;background:#fff;font:3px 'Liberation Serif',serif;color:#222;padding:1px 1.5px";
  weissNames.forEach((n, i) => { const r = document.createElement("div"); r.textContent = n;
    r.style.cssText = `line-height:3.6px;border-bottom:${i === 2 ? 0.5 : 0.8}px solid ${i === 2 ? '#777' : '#222'};margin-bottom:2.3px`; lg.append(r); });
  document.body.append(lg);
}
label(349, 379, "Coverage", 6.5, {font: '"Liberation Serif", serif', color: "#333"});
label(264, 337, "Percentage", 6, {font: '"Liberation Serif", serif', rot: true, color: "#333"});

// ---------- 16. Weiss recreated ----------
chart(boxes[15], [463,288,577,367], {
  x: {type: "log", domain: [1,10000], ticks: weissRecXTicks, tickFormat: pow10, tickSize: 0, tickPadding: 3, line: true},
  y: {domain: [0,25], ticks: weissRecYTicks, tickFormat: num, tickSize: 0, tickPadding: 1, line: true},
  style: {fontSize: "6.3px", color: "#404040"},
  marks: [Plot.line(P(weissRecErrors, weissNames[1]), {x: "x", y: "y", stroke: M[0], strokeWidth: 1.5})]
});
legend(545, 289, [weissNames[1]], [M[0]], {fs: 7.5, lh: 7.5, sw: 8});
label(509, 381, "Coverage", 8.6);
label(454, 327, "Percentage", 7.8, {rot: true});

// ---------- 17. Bourdev original ----------
const bourSeries = [bourAm3, bourAm2, bourAm1, bourA0, bourA1, bourA2, bourA3];
const bourRows = bourSeries.flatMap((arr, i) => arr.map((v, j) => ({s: bourOrigNames[i], x: bourStages[j], y: v})));
chart(boxes[16], [615,290,763,366], {
  x: {domain: [0,9], ticks: bourOrigXTicks, tickFormat: num, tickSize: -1.5, tickPadding: 3},
  y: {domain: [0,0.4], ticks: bourOrigYTicks, tickFormat: num, tickSize: -1.5, tickPadding: 2.5},
  symbol: {domain: bourOrigNames, range: ["times","circle","plus","asterisk","cross","square","diamond"]},
  style: {fontSize: "3.6px", color: "#333"},
  marks: [Plot.gridX({ticks: bourOrigXTicks, stroke: "#777", strokeOpacity: 0.6, strokeDasharray: "0.8,1.2"}),
    Plot.gridY({ticks: bourOrigYTicks, stroke: "#777", strokeOpacity: 0.6, strokeDasharray: "0.8,1.2"}),
    Plot.frame({stroke: "#333", strokeWidth: 0.6}),
    Plot.line(bourRows, {x: "x", y: "y", z: "s", stroke: "#7272e0", strokeWidth: 0.8}),
    Plot.dot(bourRows, {x: "x", y: "y", symbol: "s", stroke: "#6a6ad8", fill: "none", r: 1.3, strokeWidth: 0.6})]
});
label(689, 283, "Normalized exponential credit allocation curves", 4.6, {color: "#222"});
legend(690, 293, bourOrigNames, Array(7).fill("#7272e0"), {fs: 3.4, lh: 6.4, sw: 12, lw: 0.8, border: "0.6px solid #444", w: 33, pad: "1px 1px", color: "#333"});
label(689, 373, "stage index", 4.2, {color: "#333"});
label(600, 328, "rejection distribution value", 4, {rot: true, color: "#333"});

// ---------- 18. Bourdev recreated ----------
const bourRecRows = [...P(bourRecAm3, bourRecNames[0]), ...P(bourRecAm2, bourRecNames[1]), ...P(bourRecA2, bourRecNames[5]), ...P(bourRecA3, bourRecNames[6])];
chart(boxes[17], [793,288,893,369], {
  x: {domain: [0,10], ticks: bourRecXTicks, tickFormat: num, tickSize: 0, tickPadding: 1, line: true},
  y: {domain: [0.101,0.106], ticks: bourRecYTicks, tickFormat: num, tickSize: 0, tickPadding: 1, line: true},
  color: {domain: bourRecNames, range: M},
  style: {fontSize: "6px", color: "#404040"},
  marks: [Plot.line(bourRecRows, {x: "x", y: "y", z: "s", stroke: "s", strokeWidth: 1.6})]
});
legend(865, 303, bourRecNames, M, {fs: 7.3, lh: 7.3, sw: 8});
label(838, 381, "stage index", 9);
label(773.5, 327, "rejection distribution value", 8, {rot: true});

// ================= CAPTIONS & ROW TITLES =================
const capFont = 'Lato, "Open Sans", sans-serif';
const capPos = [[88,113.5,127],[392,113.5,135],[690,113.5,136],[95,253.5,140],[406,253.5,133],[707,253.5,115],[103,389.5,146],[348,392,153],[680,393,125]];
captions.forEach((c, i) => label(capPos[i][0], capPos[i][1], c, 10.5, {font: capFont, bold: true, italic: true, color: "#111", fit: capPos[i][2]}));
const errPos = [[241,253.5,128],[551,253.5,72],[833,253.5,110],[216,389.5,68],[216,404.5,68],[522,393,112],[837,393,81]];
errors.forEach((c, i) => label(errPos[i][0], errPos[i][1], c, 10.5, {font: capFont, italic: true, color: "#333", fit: errPos[i][2]}));
const rowPos = [[16,55,90],[16,193,97],[16,323,44]];
rowTitles.forEach((t, i) => label(rowPos[i][0], rowPos[i][1], t, 15.5, {font: capFont, bold: true, rot: true, color: "#000", fit: rowPos[i][2]}));
</script>
</body></html>
